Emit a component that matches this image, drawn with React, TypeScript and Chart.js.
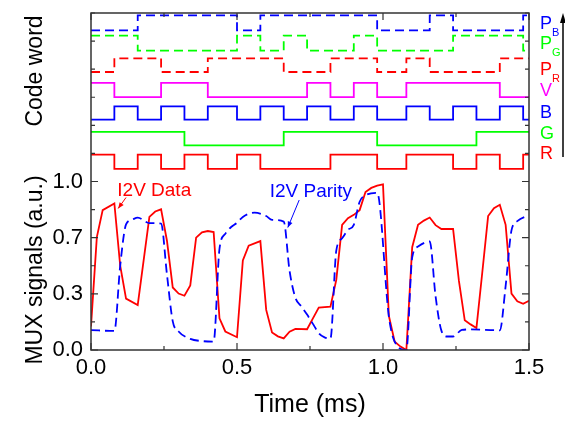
import React, { useEffect, useRef } from "react";
import { Chart, registerables } from "chart.js";

Chart.register(...registerables);

const FONT = "'Liberation Sans', Arial, Helvetica, sans-serif";

// ---- axes ----
const xTickValues = [0, 0.25, 0.5, 0.75, 1.0, 1.25, 1.5];
const xTickLabels = ["0.0", "", "0.5", "", "1.0", "", "1.5"];
const yTickValues = [0, 1 / 6, 2 / 6, 3 / 6, 4 / 6, 5 / 6, 1, 7 / 6, 8 / 6, 9 / 6, 10 / 6, 11 / 6, 2];
const yTickLabels = ["0.0", "", "0.3", "", "0.7", "", "1.0", "", "", "", "", "", ""];

// ---- code word (top panel) ----
const bitEdges = [0, 0.08, 0.16, 0.24, 0.32, 0.4, 0.5, 0.58, 0.66, 0.74, 0.82, 0.9, 0.98, 1.08, 1.16, 1.24, 1.32, 1.4, 1.48, 1.5];
const bitsPB = [0, 0, 1, 1, 1, 1, 0, 1, 1, 1, 1, 1, 0, 0, 1, 0, 0, 0, 1];
const bitsPG = [1, 1, 0, 0, 0, 0, 1, 0, 1, 0, 0, 1, 0, 0, 0, 1, 1, 1, 0];
const bitsPR = [0, 1, 1, 0, 0, 1, 1, 1, 0, 0, 1, 1, 0, 1, 0, 0, 0, 1, 1];
const bitsV = [1, 0, 0, 1, 1, 0, 0, 0, 0, 1, 0, 1, 0, 1, 1, 1, 1, 0, 0];
const bitsB = [0, 1, 0, 1, 0, 1, 0, 1, 0, 1, 0, 1, 0, 1, 0, 1, 0, 1, 0];
const bitsG = [1, 1, 1, 1, 0, 0, 0, 0, 1, 1, 1, 1, 0, 0, 0, 0, 1, 1, 1];
const bitsR = [1, 0, 1, 0, 1, 0, 1, 0, 0, 0, 1, 1, 0, 1, 1, 0, 1, 0, 1];
const codeBits = [bitsPB, bitsPG, bitsPR, bitsV, bitsB, bitsG, bitsR];
const codeHigh = [1.986, 1.866, 1.731, 1.585, 1.446, 1.294, 1.159];
const codeLow = [1.897, 1.777, 1.65, 1.501, 1.367, 1.214, 1.075];
const codeMain = ["P", "P", "P", "V", "B", "G", "R"];
const codeSub = ["B", "G", "R", "", "", "", ""];

// ---- MUX signals (bottom panel) ----
const dataTime = [0, 0.02, 0.04, 0.08, 0.1, 0.12, 0.16, 0.2, 0.22, 0.24, 0.26, 0.28, 0.3, 0.32, 0.34, 0.36, 0.38, 0.4, 0.42, 0.44, 0.46, 0.5, 0.52, 0.54, 0.58, 0.6, 0.62, 0.64, 0.66, 0.68, 0.7, 0.74, 0.76, 0.78, 0.82, 0.84, 0.86, 0.88, 0.9, 0.92, 0.94, 0.96, 0.98, 1.0, 1.02, 1.04, 1.06, 1.08, 1.1, 1.12, 1.14, 1.16, 1.18, 1.2, 1.24, 1.26, 1.28, 1.3, 1.32, 1.34, 1.36, 1.38, 1.4, 1.42, 1.44, 1.46, 1.48, 1.5, 1.52];
const dataValue = [0.14, 0.67, 0.83, 0.87, 0.5, 0.305, 0.267, 0.79, 0.822, 0.835, 0.65, 0.371, 0.335, 0.322, 0.383, 0.667, 0.698, 0.706, 0.7, 0.188, 0.11, 0.076, 0.532, 0.619, 0.646, 0.238, 0.104, 0.081, 0.069, 0.109, 0.125, 0.123, 0.188, 0.252, 0.257, 0.416, 0.743, 0.782, 0.802, 0.83, 0.938, 0.962, 0.975, 0.983, 0.203, 0.049, 0.02, 0.0, 0.61, 0.743, 0.768, 0.786, 0.741, 0.718, 0.718, 0.41, 0.176, 0.152, 0.131, 0.46, 0.795, 0.842, 0.862, 0.743, 0.335, 0.289, 0.274, 0.292, 0.75];

const parityTime = [0, 0.08, 0.1, 0.12, 0.14, 0.16, 0.2, 0.24, 0.26, 0.28, 0.3, 0.34, 0.38, 0.42, 0.44, 0.46, 0.48, 0.5, 0.52, 0.56, 0.6, 0.62, 0.66, 0.68, 0.7, 0.72, 0.74, 0.76, 0.78, 0.8, 0.82, 0.84, 0.86, 0.88, 0.9, 0.92, 0.94, 0.98, 1.02, 1.04, 1.08, 1.1, 1.12, 1.16, 1.18, 1.2, 1.22, 1.24, 1.27, 1.3, 1.4, 1.42, 1.44, 1.46, 1.5];
const parityValue = [0.118, 0.113, 0.5, 0.745, 0.773, 0.786, 0.753, 0.75, 0.45, 0.17, 0.11, 0.066, 0.053, 0.05, 0.6, 0.69, 0.73, 0.755, 0.79, 0.815, 0.795, 0.772, 0.762, 0.47, 0.31, 0.26, 0.21, 0.155, 0.1, 0.075, 0.068, 0.59, 0.663, 0.713, 0.743, 0.88, 0.918, 0.933, 0.2, 0.05, 0.0, 0.55, 0.614, 0.644, 0.32, 0.115, 0.08, 0.08, 0.119, 0.122, 0.117, 0.38, 0.71, 0.765, 0.8];

const annoText = ["I2V Data", "I2V Parity"];
const annoColor = ["#ff0000", "#0000ff"];
const annoAt = [[0.09, 0.915], [0.612, 0.906]];
const annoFrom = [[0.12, 0.905], [0.713, 0.89]];
const annoTo = [[0.093, 0.84], [0.674, 0.727]];

const RED = "#ff0000";
const GREEN = "#00ff00";
const BLUE = "#0000ff";
const MAGENTA = "#ff00ff";
const codeColors = [BLUE, GREEN, RED, MAGENTA, BLUE, GREEN, RED];
const codeDashed = [true, true, true, false, false, false, false];

function stepPoints(bits: number[], hi: number, lo: number) {
  const pts = bits.map((b, i) => ({ x: bitEdges[i], y: b ? hi : lo }));
  pts.push({ x: bitEdges[bitEdges.length - 1], y: bits[bits.length - 1] ? hi : lo });
  return pts;
}

function arrowHead(ctx: CanvasRenderingContext2D, x0: number, y0: number, x1: number, y1: number, len: number, half: number) {
  const dx = x1 - x0, dy = y1 - y0;
  const d = Math.hypot(dx, dy) || 1;
  const ux = dx / d, uy = dy / d;
  const bx = x1 - ux * len, by = y1 - uy * len;
  ctx.beginPath();
  ctx.moveTo(x1, y1);
  ctx.lineTo(bx - uy * half, by + ux * half);
  ctx.lineTo(bx + uy * half, by - ux * half);
  ctx.closePath();
  ctx.fill();
}

const decorPlugin = {
  id: "decor",
  afterDatasetsDraw(chart: any) {
    const { ctx, chartArea: a, scales } = chart;
    const xs = scales.x, ys = scales.y;
    ctx.save();
    ctx.strokeStyle = "#333";
    ctx.lineWidth = 1.5;
    ctx.strokeRect(a.left, a.top, a.right - a.left, a.bottom - a.top);
    ctx.lineWidth = 1.2;
    ctx.beginPath();
    xTickValues.forEach((v, i) => {
      const px = xs.getPixelForValue(v);
      const len = xTickLabels[i] ? 7 : 4;
      ctx.moveTo(px, a.bottom);
      ctx.lineTo(px, a.bottom - len);
      ctx.moveTo(px, a.top);
      ctx.lineTo(px, a.top + len);
    });
    yTickValues.forEach((v, i) => {
      const py = ys.getPixelForValue(v);
      const len = yTickLabels[i] ? 7 : 4;
      ctx.moveTo(a.left, py);
      ctx.lineTo(a.left + len, py);
      ctx.moveTo(a.right, py);
      ctx.lineTo(a.right - len, py);
    });
    ctx.stroke();
    ctx.restore();
  },
  afterDraw(chart: any) {
    const { ctx, chartArea: a, scales } = chart;
    const xs = scales.x, ys = scales.y;
    ctx.save();
    ctx.fillStyle = "#000";
    ctx.font = `23px ${FONT}`;
    ctx.textAlign = "center";
    ctx.textBaseline = "middle";
    ctx.save();
    ctx.translate(36, 71);
    ctx.rotate(-Math.PI / 2);
    ctx.fillText("Code word", 0, 0);
    ctx.restore();
    ctx.save();
    ctx.translate(36, 270);
    ctx.rotate(-Math.PI / 2);
    ctx.fillText("MUX signals (a.u.)", 0, 0);
    ctx.restore();

    const labelY = [24, 44, 70, 91, 113, 134, 154];
    ctx.textAlign = "left";
    codeMain.forEach((m, i) => {
      ctx.fillStyle = codeColors[i];
      ctx.font = `18px ${FONT}`;
      ctx.fillText(m, a.right + 11, labelY[i]);
      if (codeSub[i]) {
        ctx.font = `11px ${FONT}`;
        ctx.fillText(codeSub[i], a.right + 23, labelY[i] + 9);
      }
    });

    ctx.strokeStyle = "#000";
    ctx.fillStyle = "#000";
    ctx.lineWidth = 1.5;
    ctx.beginPath();
    ctx.moveTo(563, 157);
    ctx.lineTo(563, 20);
    ctx.stroke();
    arrowHead(ctx, 563, 157, 563, 13, 10, 3);

    annoText.forEach((t, i) => {
      ctx.fillStyle = annoColor[i];
      ctx.strokeStyle = annoColor[i];
      ctx.font = `19px ${FONT}`;
      ctx.textAlign = "left";
      ctx.textBaseline = "alphabetic";
      ctx.fillText(t, xs.getPixelForValue(annoAt[i][0]), ys.getPixelForValue(annoAt[i][1]));
      const x0 = xs.getPixelForValue(annoFrom[i][0]);
      const y0 = ys.getPixelForValue(annoFrom[i][1]);
      const x1 = xs.getPixelForValue(annoTo[i][0]);
      const y1 = ys.getPixelForValue(annoTo[i][1]);
      ctx.lineWidth = 1;
      ctx.beginPath();
      ctx.moveTo(x0, y0);
      ctx.lineTo(x1, y1);
      ctx.stroke();
      arrowHead(ctx, x0, y0, x1, y1, 6, 2.5);
    });
    ctx.restore();
  },
};

export default function App() {
  const ref = useRef<HTMLCanvasElement | null>(null);
  useEffect(() => {
    if (!ref.current) return;
    const codeSets = codeBits.map((bits, i) => ({
      label: codeMain[i] + codeSub[i],
      data: stepPoints(bits, codeHigh[i], codeLow[i]),
      borderColor: codeColors[i],
      borderWidth: 1.8,
      borderDash: codeDashed[i] ? [9, 5] : [],
      stepped: "before" as const,
      pointRadius: 0,
      fill: false,
      order: 2,
    }));
    const chart = new Chart(ref.current, {
      type: "line",
      data: {
        datasets: [
          {
            label: "I2V Parity",
            data: parityTime.map((t, i) => ({ x: t, y: parityValue[i] })),
            borderColor: BLUE,
            borderWidth: 1.8,
            borderDash: [9, 5],
            pointRadius: 0,
            cubicInterpolationMode: "monotone",
            fill: false,
            order: 0,
          },
          {
            label: "I2V Data",
            data: dataTime.map((t, i) => ({ x: t, y: dataValue[i] })),
            borderColor: RED,
            borderWidth: 1.8,
            pointRadius: 0,
            tension: 0,
            fill: false,
            order: 1,
          },
          ...codeSets,
        ] as any,
      },
      options: {
        responsive: false,
        animation: false,
        events: [],
        layout: { padding: { left: 0, right: 36, top: 13, bottom: 0 } },
        plugins: { legend: { display: false }, tooltip: { enabled: false } },
        scales: {
          x: {
            type: "linear",
            min: 0,
            max: 1.5,
            afterBuildTicks: (s: any) => {
              s.ticks = xTickValues.map((v) => ({ value: v }));
            },
            afterFit: (s: any) => {
              s.height = 73;
              s.paddingLeft = 0;
              s.paddingRight = 0;
            },
            grid: { display: false, drawTicks: false },
            border: { display: false },
            ticks: {
              autoSkip: false,
              maxRotation: 0,
              padding: 5,
              color: "#000",
              font: { family: FONT, size: 22 },
              callback: (_v: any, i: number) => xTickLabels[i],
            },
            title: {
              display: true,
              text: "Time (ms)",
              color: "#000",
              font: { family: FONT, size: 25 },
              padding: { top: 0, bottom: 3 },
            },
          },
          y: {
            type: "linear",
            min: 0,
            max: 2,
            afterBuildTicks: (s: any) => {
              s.ticks = yTickValues.map((v) => ({ value: v }));
            },
            afterFit: (s: any) => {
              s.width = 91;
              s.paddingTop = 0;
              s.paddingBottom = 0;
            },
            grid: { display: false, drawTicks: false },
            border: { display: false },
            ticks: {
              autoSkip: false,
              padding: 8,
              color: "#000",
              font: { family: FONT, size: 22 },
              callback: (_v: any, i: number) => yTickLabels[i],
            },
          },
        },
      } as any,
      plugins: [decorPlugin as any],
    });
    return () => chart.destroy();
  }, []);
  return (
    <div style={{ position: "fixed", left: 0, top: 0, width: 565, height: 423, background: "#fff" }}>
      <canvas ref={ref} width={565} height={423} style={{ display: "block" }} />
    </div>
  );
}
